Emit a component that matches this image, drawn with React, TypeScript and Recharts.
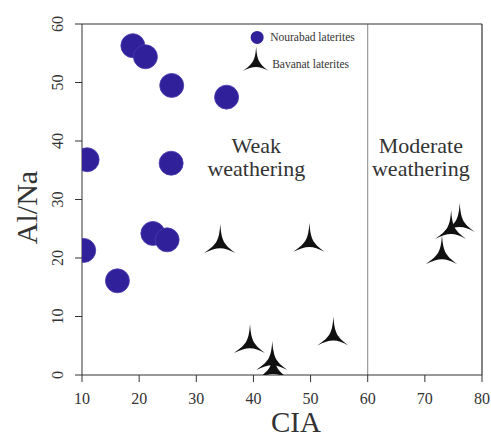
import React from "react";
import {
  ScatterChart,
  Scatter,
  XAxis,
  YAxis,
  ReferenceLine,
  ReferenceDot,
} from "recharts";

const nourabadCIA = [18.9, 21.1, 25.7, 35.3, 10.9, 25.6, 10.3, 16.2, 22.4, 24.9];
const nourabadAlNa = [56.3, 54.4, 49.5, 47.5, 36.8, 36.2, 21.3, 16.1, 24.2, 23.1];

const bavanatCIA = [34.2, 49.8, 39.4, 43.3, 43.5, 54.0, 73.0, 74.6, 76.1];
const bavanatAlNa = [22.4, 22.6, 5.3, 2.4, 0.9, 6.6, 20.5, 24.8, 26.0];

const xTicks = [10, 20, 30, 40, 50, 60, 70, 80];
const yTicks = [0, 10, 20, 30, 40, 50, 60];

const seriesNames = ["Nourabad laterites", "Bavanat laterites"];

const zoneLabels = [
  { x: 40.5, y: 38.0, lines: ["Weak", "weathering"] },
  { x: 69.3, y: 38.0, lines: ["Moderate", "weathering"] },
];

const legendAnchor = { x: 40.65, y: 57.7 };

const nourabad = nourabadCIA.map((x, i) => ({ x, y: nourabadAlNa[i] }));
const bavanat = bavanatCIA.map((x, i) => ({ x, y: bavanatAlNa[i] }));

const FONT = "'Liberation Serif', 'DejaVu Serif', serif";
const CIRCLE = "#30209a";
const AXIS = "#333";

const starPath = (cx: number, cy: number, s = 1) => {
  const p = (dx: number, dy: number) => `${cx + dx * s},${cy + dy * s}`;
  return (
    `M${p(0, -20)} ` +
    `C${p(1.2, -4)} ${p(3, 0)} ${p(15, 9)} ` +
    `C${p(3, 2.6)} ${p(-3, 2.6)} ${p(-16, 9)} ` +
    `C${p(-3, 0)} ${p(-1.2, -4)} ${p(0, -20)} Z`
  );
};

const CircleShape = (props: any) => (
  <circle cx={props.cx} cy={props.cy} r={12} fill={CIRCLE} stroke="#4a3cb0" strokeWidth={0.8} />
);

const StarShape = (props: any) => <path d={starPath(props.cx, props.cy)} fill="#111" />;

const XTick = (props: any) => (
  <text x={props.x} y={props.y + 20} textAnchor="middle" fontFamily={FONT} fontSize={16} fill="#333">
    {props.payload.value}
  </text>
);

const YTick = (props: any) => {
  const x = 63;
  return (
    <text
      x={x}
      y={props.y}
      transform={`rotate(-90, ${x}, ${props.y})`}
      textAnchor="middle"
      fontFamily={FONT}
      fontSize={16}
      fill="#333"
    >
      {props.payload.value}
    </text>
  );
};

const LegendShape = (props: any) => {
  const cx = props.cx;
  const cy = props.cy;
  return (
    <g>
      <circle cx={cx} cy={cy} r={6.5} fill={CIRCLE} />
      <text x={cx + 13} y={cy + 4} fontFamily={FONT} fontSize={11.5} fill="#333">
        {seriesNames[0]}
      </text>
      <path d={starPath(cx - 1, cy + 26, 0.85)} fill="#111" />
      <text x={cx + 15} y={cy + 31} fontFamily={FONT} fontSize={11.5} fill="#333">
        {seriesNames[1]}
      </text>
    </g>
  );
};

const ZoneLabel = (lines: string[]) => (props: any) => (
  <text x={props.cx} y={props.cy} textAnchor="middle" fontFamily={FONT} fontSize={22} fill="#333">
    {lines.map((ln, i) => (
      <tspan key={i} x={props.cx} dy={i === 0 ? 0 : 23.5}>
        {ln}
      </tspan>
    ))}
  </text>
);

const XLabel = (props: any) => {
  const vb = props.viewBox;
  return (
    <text x={vb.x + vb.width / 2 + 14} y={432} textAnchor="middle" fontFamily={FONT} fontSize={29} fill="#333">
      CIA
    </text>
  );
};

const YLabel = (props: any) => {
  const vb = props.viewBox;
  const cy = vb.y + vb.height / 2 + 8;
  const x = 37;
  return (
    <text
      x={x}
      y={cy}
      transform={`rotate(-90, ${x}, ${cy})`}
      textAnchor="middle"
      fontFamily={FONT}
      fontSize={30}
      fill="#333"
    >
      Al/Na
    </text>
  );
};

export default function App() {
  return (
    <div style={{ position: "absolute", left: 0, top: 0, width: 491, height: 437, background: "#fff" }}>
      <ScatterChart width={491} height={437} margin={{ top: 24, right: 9, left: 0, bottom: 0 }}>
        <XAxis
          type="number"
          dataKey="x"
          domain={[10, 80]}
          ticks={xTicks}
          allowDataOverflow
          height={62}
          tickSize={7}
          tickMargin={2}
          stroke={AXIS}
          tick={<XTick />}
          label={<XLabel />}
        />
        <YAxis
          type="number"
          dataKey="y"
          domain={[0, 60]}
          ticks={yTicks}
          allowDataOverflow
          width={82}
          tickSize={7}
          tickMargin={2}
          stroke={AXIS}
          tick={<YTick />}
          label={<YLabel />}
        />
        <ReferenceLine y={60} stroke={AXIS} strokeWidth={1.2} />
        <ReferenceLine x={80} stroke={AXIS} strokeWidth={1.2} />
        <ReferenceLine x={60} stroke="#666" strokeWidth={0.8} />
        {zoneLabels.map((z, i) => (
          <ReferenceDot key={i} x={z.x} y={z.y} r={0} shape={ZoneLabel(z.lines)} />
        ))}
        <ReferenceDot x={legendAnchor.x} y={legendAnchor.y} r={0} shape={LegendShape} />
        <Scatter name={seriesNames[0]} data={nourabad} shape={<CircleShape />} isAnimationActive={false} />
        <Scatter name={seriesNames[1]} data={bavanat} shape={<StarShape />} isAnimationActive={false} />
      </ScatterChart>
    </div>
  );
}
